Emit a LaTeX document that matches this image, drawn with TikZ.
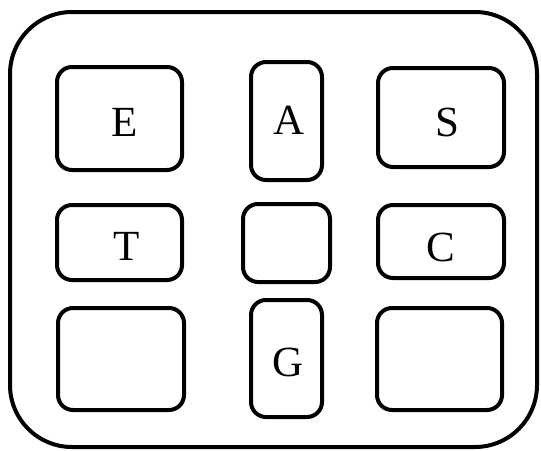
\documentclass[tikz,border=0pt]{standalone}
\usepackage{fontspec}
\setmainfont{Liberation Serif}
\begin{document}
\begin{tikzpicture}[x=1pt,y=-1pt,
  boxstyle/.style={draw,line width=4pt,rounded corners=15pt,inner sep=0pt,anchor=center},
  labstyle/.style={inner sep=0pt,anchor=center,font=\fontsize{43}{50}\selectfont}]
\useasboundingbox (0,0) rectangle (541,450);
\draw[line width=4pt,rounded corners=62pt] (10,12) rectangle (537,447);
\node[boxstyle,minimum width=125pt,minimum height=103pt] (e) at (119.5,118.5) {};
\node[boxstyle,minimum width=71pt,minimum height=118pt] (a) at (286.5,121) {};
\node[boxstyle,minimum width=126pt,minimum height=99pt] (s) at (441,117.5) {};
\node[boxstyle,minimum width=125pt,minimum height=75pt] (t) at (119.5,242.5) {};
\node[boxstyle,minimum width=87pt,minimum height=78pt] (m) at (286.5,243) {};
\node[boxstyle,minimum width=126pt,minimum height=73pt] (c) at (441,241.5) {};
\node[boxstyle,minimum width=126pt,minimum height=102pt] (bl) at (121,359) {};
\node[boxstyle,minimum width=71pt,minimum height=117pt] (g) at (286.5,358.5) {};
\node[boxstyle,minimum width=125pt,minimum height=102pt] (br) at (439.5,359) {};
\node[labstyle] (le) at (124.5,122) {E};
\node[labstyle] (la) at (289,120) {A};
\node[labstyle] (ls) at (447,122) {S};
\node[labstyle] (lt) at (127,246) {T};
\node[labstyle] (lc) at (441,247.5) {C};
\node[labstyle] (lg) at (288,362.5) {G};
\end{tikzpicture}
\end{document}
